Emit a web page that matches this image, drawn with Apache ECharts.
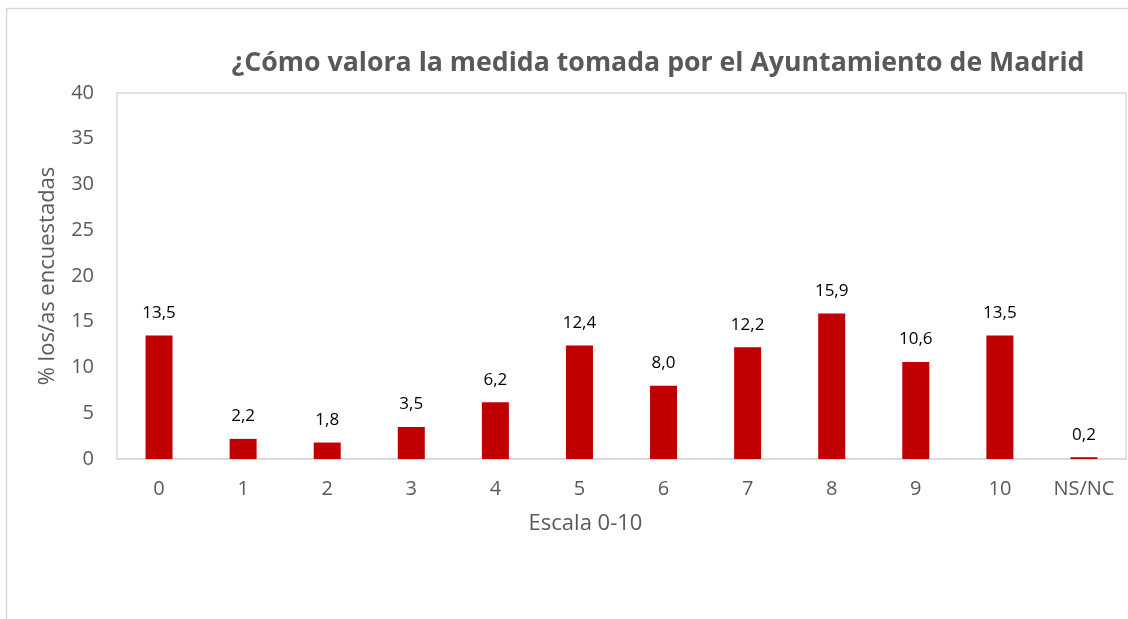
<!DOCTYPE html>
<html>
<head>
<meta charset="utf-8">
<script src="https://cdn.jsdelivr.net/npm/echarts@6/dist/echarts.min.js"></script>
<style>
    html, body { margin: 0; padding: 0; background: #fff; }
    #chart { width: 1128px; height: 619px; }
</style>
</head>
<body>
<div id="chart"></div>
<script>
    // datos
    var categorias = ['0', '1', '2', '3', '4', '5', '6', '7', '8', '9', '10', 'NS/NC'];
    var porcentajes = [13.5, 2.2, 1.8, 3.5, 6.2, 12.4, 8.0, 12.2, 15.9, 10.6, 13.5, 0.2];

    var fuente = '"Open Sans", "Noto Sans", sans-serif';
    var chart = echarts.init(document.getElementById('chart'));

    var option = {
        animation: false,
        textStyle: { fontFamily: fuente },
        graphic: [
            {
                type: 'rect',
                shape: { x: 6.5, y: 8.5, width: 1140, height: 630 },
                style: { fill: 'none', stroke: '#d9d9d9', lineWidth: 1.5 },
                silent: true
            }
        ],
        title: {
            text: '¿Cómo valora la medida tomada por el Ayuntamiento de Madrid',
            left: 653,
            top: 45,
            textAlign: 'center',
            textStyle: {
                fontFamily: fuente,
                fontSize: 26.7,
                fontWeight: 'bold',
                color: '#595959'
            }
        },
        grid: {
            left: 117,
            right: 2,
            top: 93,
            bottom: 160,
            show: true,
            borderColor: '#d9d9d9',
            borderWidth: 1.5
        },
        xAxis: {
            type: 'category',
            data: categorias,
            name: 'Escala 0-10',
            nameLocation: 'middle',
            nameGap: 54,
            nameTextStyle: {
                fontSize: 22,
                color: '#595959',
                padding: [0, 72, 0, 0]
            },
            axisLine: { lineStyle: { color: '#d9d9d9', width: 1.5 } },
            axisTick: { show: false },
            axisLabel: { fontSize: 20, color: '#595959', margin: 20 }
        },
        yAxis: {
            type: 'value',
            min: 0,
            max: 40,
            interval: 5,
            name: '% los/as encuestadas',
            nameLocation: 'middle',
            nameGap: 58,
            nameTextStyle: { fontSize: 22, color: '#595959' },
            axisLine: { show: false },
            axisTick: { show: false },
            splitLine: { show: false },
            axisLabel: { fontSize: 20, color: '#595959', margin: 23 }
        },
        series: [
            {
                type: 'bar',
                data: porcentajes,
                barWidth: 27,
                itemStyle: { color: '#c00000' },
                label: {
                    show: true,
                    position: 'top',
                    distance: 14,
                    fontSize: 17,
                    color: '#000',
                    formatter: function (p) {
                        return p.value.toFixed(1).replace('.', ',');
                    }
                }
            }
        ]
    };

    chart.setOption(option);
</script>
</body>
</html>
